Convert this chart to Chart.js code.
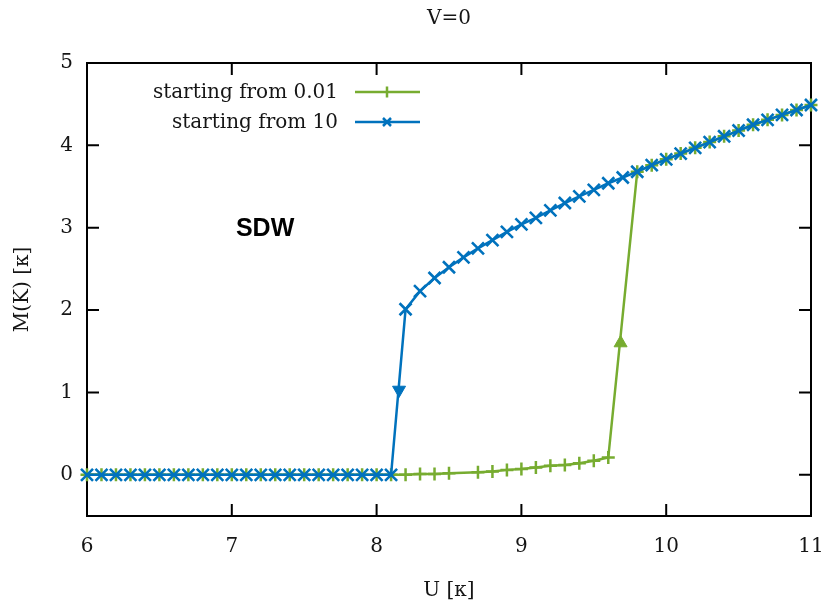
<!DOCTYPE html>
<html>
<head>
<meta charset="utf-8">
<script src="https://cdn.jsdelivr.net/npm/chart.js@4.4.1/dist/chart.umd.min.js"></script>
<style>
  html, body { margin: 0; padding: 0; background: #fff; }
</style>
</head>
<body>
<canvas id="magChart" width="827" height="603"></canvas>
<script>
const uTicks = [6, 7, 8, 9, 10, 11];
const mTicks = [0, 1, 2, 3, 4, 5];

// rama que arranca desde M=0.01
const uFromSmall = [6.0, 6.1, 6.2, 6.3, 6.4, 6.5, 6.6, 6.7, 6.8, 6.9, 7.0, 7.1, 7.2, 7.3, 7.4, 7.5, 7.6, 7.7, 7.8, 7.9, 8.0, 8.1,
                    8.2, 8.3, 8.4, 8.5, 8.7, 8.8, 8.9, 9.0, 9.1, 9.2, 9.3, 9.4, 9.5, 9.6,
                    9.8, 9.9, 10.0, 10.1, 10.2, 10.3, 10.4, 10.5, 10.6, 10.7, 10.8, 10.9, 11.0];
const mFromSmall = [0, 0, 0, 0, 0, 0, 0, 0, 0, 0, 0, 0, 0, 0, 0, 0, 0, 0, 0, 0, 0, 0,
                    0.0, 0.01, 0.01, 0.02, 0.03, 0.04, 0.06, 0.07, 0.09, 0.11, 0.12, 0.14, 0.17, 0.21,
                    3.68, 3.76, 3.83, 3.90, 3.97, 4.04, 4.11, 4.18, 4.25, 4.31, 4.37, 4.43, 4.49];

// rama que arranca desde M=10
const uFromLarge = [6.0, 6.1, 6.2, 6.3, 6.4, 6.5, 6.6, 6.7, 6.8, 6.9, 7.0, 7.1, 7.2, 7.3, 7.4, 7.5, 7.6, 7.7, 7.8, 7.9, 8.0, 8.1,
                    8.2, 8.3, 8.4, 8.5, 8.6, 8.7, 8.8, 8.9, 9.0, 9.1, 9.2, 9.3, 9.4, 9.5, 9.6, 9.7,
                    9.8, 9.9, 10.0, 10.1, 10.2, 10.3, 10.4, 10.5, 10.6, 10.7, 10.8, 10.9, 11.0];
const mFromLarge = [0, 0, 0, 0, 0, 0, 0, 0, 0, 0, 0, 0, 0, 0, 0, 0, 0, 0, 0, 0, 0, 0,
                    2.01, 2.23, 2.39, 2.52, 2.64, 2.75, 2.85, 2.95, 3.04, 3.12, 3.21, 3.30, 3.38, 3.46, 3.54, 3.61,
                    3.68, 3.76, 3.83, 3.90, 3.97, 4.04, 4.11, 4.18, 4.25, 4.31, 4.37, 4.43, 4.49];

// flechas del salto (U, M)
const arrowUp = [9.685, 1.6];
const arrowDown = [8.155, 1.03];

const verde = '#77ac30';
const azul = '#0072bd';
const serif = '"DejaVu Serif", serif';
const textColor = '#151515';

const toPoints = (xs, ys) => xs.map((x, i) => ({ x: x, y: ys[i] }));

// marco con ticks hacia adentro
const marcoPlugin = {
    id: 'marco',
    beforeDatasetsDraw(chart) {
        const { ctx, chartArea: a, scales } = chart;
        const len = 12;
        ctx.save();
        ctx.strokeStyle = '#000';
        ctx.lineWidth = 2;
        ctx.beginPath();
        uTicks.forEach(v => {
            const px = scales.x.getPixelForValue(v);
            ctx.moveTo(px, a.bottom); ctx.lineTo(px, a.bottom - len);
            ctx.moveTo(px, a.top); ctx.lineTo(px, a.top + len);
        });
        mTicks.forEach(v => {
            const py = scales.y.getPixelForValue(v);
            ctx.moveTo(a.left, py); ctx.lineTo(a.left + len, py);
            ctx.moveTo(a.right, py); ctx.lineTo(a.right - len, py);
        });
        ctx.stroke();
        ctx.strokeRect(a.left, a.top, a.right - a.left, a.bottom - a.top);
        ctx.restore();
    }
};

// leyenda estilo gnuplot y etiqueta de la fase
const leyendaPlugin = {
    id: 'leyenda',
    afterDatasetsDraw(chart) {
        const ctx = chart.ctx;
        const filas = [92, 122];
        ctx.save();
        ctx.font = '20px ' + serif;
        ctx.textAlign = 'right';
        ctx.textBaseline = 'middle';
        chart.data.datasets.slice(0, 2).forEach((ds, i) => {
            const y = filas[i];
            ctx.fillStyle = textColor;
            ctx.fillText(ds.label, 338, y + 1);
            ctx.strokeStyle = ds.borderColor;
            ctx.lineWidth = 2.5;
            ctx.beginPath();
            ctx.moveTo(355, y); ctx.lineTo(420, y);
            const cx = 387, r = 5.5;
            if (ds.pointStyle === 'cross') {
                ctx.moveTo(cx, y - r); ctx.lineTo(cx, y + r);
            } else {
                ctx.moveTo(cx - 4, y - 4); ctx.lineTo(cx + 4, y + 4);
                ctx.moveTo(cx - 4, y + 4); ctx.lineTo(cx + 4, y - 4);
            }
            ctx.stroke();
        });
        const s = chart.scales;
        ctx.font = 'bold 25px "Liberation Sans", Arial, sans-serif';
        ctx.textAlign = 'center';
        ctx.fillStyle = '#000';
        ctx.fillText('SDW', s.x.getPixelForValue(7.23), s.y.getPixelForValue(2.98));
        ctx.restore();
    }
};

const ctx = document.getElementById('magChart').getContext('2d');
new Chart(ctx, {
    type: 'scatter',
    data: {
        datasets: [{
            label: 'starting from 0.01',
            data: toPoints(uFromSmall, mFromSmall),
            showLine: true,
            borderColor: verde,
            backgroundColor: verde,
            borderWidth: 2.5,
            pointStyle: 'cross',
            pointRadius: 6.5,
            pointBorderWidth: 2.5,
            clip: false,
            order: 3
        }, {
            label: 'starting from 10',
            data: toPoints(uFromLarge, mFromLarge),
            showLine: true,
            borderColor: azul,
            backgroundColor: azul,
            borderWidth: 2.5,
            pointStyle: 'crossRot',
            pointRadius: 8.5,
            pointBorderWidth: 2.6,
            clip: false,
            order: 2
        }, {
            label: 'up',
            data: [{ x: arrowUp[0], y: arrowUp[1] }],
            pointStyle: 'triangle',
            pointRadius: 7.5,
            borderColor: verde,
            backgroundColor: verde,
            order: 1
        }, {
            label: 'down',
            data: [{ x: arrowDown[0], y: arrowDown[1] }],
            pointStyle: 'triangle',
            rotation: 180,
            pointRadius: 7.5,
            borderColor: azul,
            backgroundColor: azul,
            order: 1
        }]
    },
    options: {
        responsive: false,
        animation: false,
        devicePixelRatio: 1,
        layout: { padding: { left: 0, right: 16, top: 0, bottom: 0 } },
        plugins: {
            legend: { display: false },
            tooltip: { enabled: false },
            title: {
                display: true,
                text: 'V=0',
                fullSize: false,
                color: textColor,
                font: { family: serif, size: 20, weight: 'normal' },
                padding: { top: 7, bottom: 32 }
            }
        },
        scales: {
            x: {
                type: 'linear',
                min: 6,
                max: 11,
                afterBuildTicks: s => { s.ticks = uTicks.map(v => ({ value: v })); },
                afterFit: s => { s.height = 87; s.paddingLeft = 0; s.paddingRight = 0; },
                grid: { display: false, drawTicks: false },
                border: { display: false },
                ticks: { color: textColor, font: { family: serif, size: 20 }, padding: 19, maxRotation: 0 },
                title: { display: true, text: 'U [κ]', color: textColor, font: { family: serif, size: 20 }, padding: 0 }
            },
            y: {
                min: -0.5,
                max: 5,
                afterBuildTicks: s => { s.ticks = mTicks.map(v => ({ value: v })); },
                afterFit: s => { s.width = 87; },
                grid: { display: false, drawTicks: false },
                border: { display: false },
                ticks: { color: textColor, font: { family: serif, size: 20 }, padding: 14 },
                title: { display: true, text: 'M(K) [κ]', color: textColor, font: { family: serif, size: 20 }, padding: 11 }
            }
        }
    },
    plugins: [marcoPlugin, leyendaPlugin]
});
</script>
</body>
</html>
